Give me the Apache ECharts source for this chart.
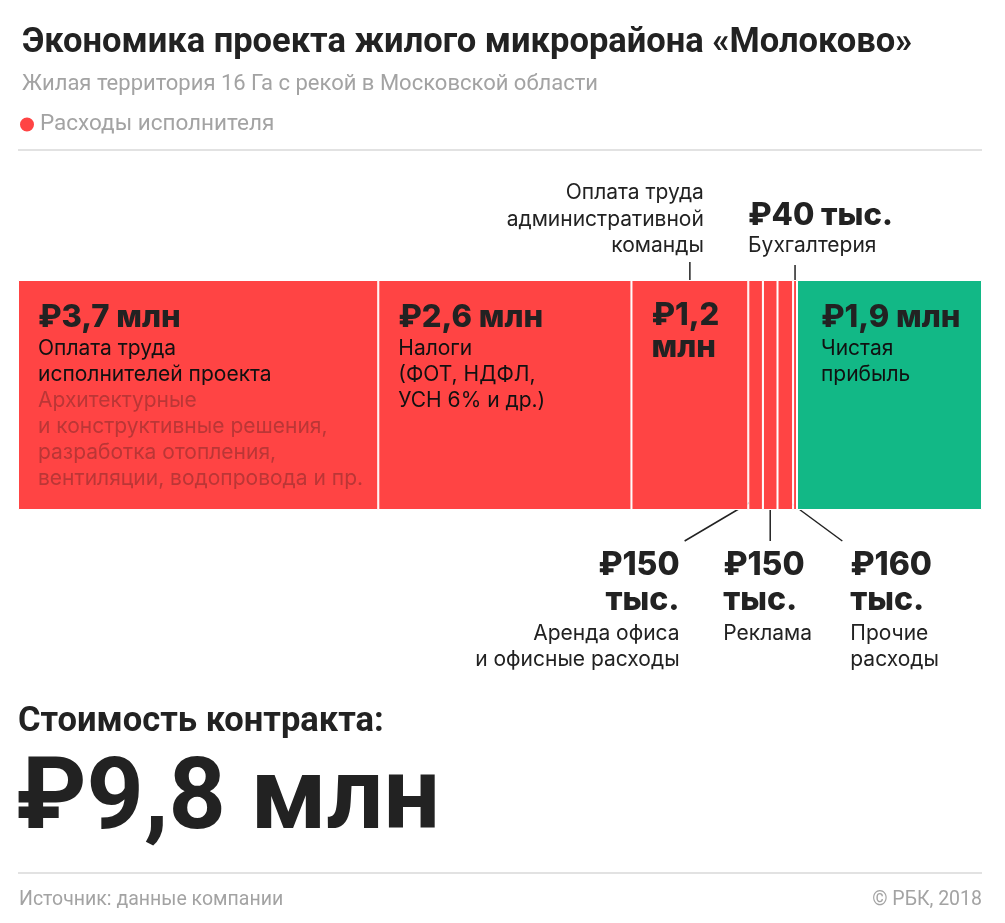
<!DOCTYPE html>
<html><head><meta charset="utf-8">
<script src="https://cdn.jsdelivr.net/npm/echarts@6/dist/echarts.min.js"></script>
<style>html,body{margin:0;background:#fff}#c{width:1005px;height:923px}</style>
</head><body><div id="c"></div>
<script>
// ---------- DATA ----------
const categories = [
  'Оплата труда исполнителей проекта', 'Налоги', 'Оплата труда административной команды',
  'Аренда офиса и офисные расходы', 'Реклама', 'Прочие расходы', 'Бухгалтерия', 'Чистая прибыль'
];
const valuesMln = [3.7, 2.6, 1.2, 0.15, 0.15, 0.16, 0.04, 1.9];
const groups = ['expense', 'expense', 'expense', 'expense', 'expense', 'expense', 'expense', 'profit'];
const valueTexts = [['₽3,7 млн'], ['₽2,6 млн'], ['₽1,2', 'млн'], ['₽150', 'тыс.'], ['₽150', 'тыс.'], ['₽160', 'тыс.'], ['₽40 тыс.'], ['₽1,9 млн']];
const descTexts = [
  ['Оплата труда', 'исполнителей проекта'],
  ['Налоги', '(ФОТ, НДФЛ,', 'УСН 6% и др.)'],
  ['Оплата труда', 'административной', 'команды'],
  ['Аренда офиса', 'и офисные расходы'],
  ['Реклама'],
  ['Прочие', 'расходы'],
  ['Бухгалтерия'],
  ['Чистая', 'прибыль']
];
const noteTexts = [['Архитектурные', 'и конструктивные решения,', 'разработка отопления,', 'вентиляции, водопровода и пр.'], [], [], [], [], [], [], []];
const groupNames = { expense: 'Расходы исполнителя', profit: 'Чистая прибыль' };
const titleText = 'Экономика проекта жилого микрорайона «Молоково»';
const subtitleText = 'Жилая территория 16 Га с рекой в Московской области';
const totalLabel = 'Стоимость контракта:';
const totalText = '₽9,8 млн';
const sourceText = 'Источник: данные компании';
const creditText = '© РБК, 2018';

// ---------- STYLE ----------
const colors = { expense: '#ff4444', profit: '#12b886' };
const BODY = 'Inter, "Noto Sans", Roboto, sans-serif';
const BOLDNUM = 'Inter, "Noto Sans", Roboto, sans-serif';
const COND = 'Roboto, "Liberation Sans Narrow", sans-serif';
const GRID = { left: 18, right: 23, top: 280, height: 230 };
const insideIdx = [0, 1, 2, 7];
const insideShowsDesc = [true, true, false, false, false, false, false, true];

const chart = echarts.init(document.getElementById('c'), null, { renderer: 'canvas' });

function insideLabel(i) {
  if (!insideIdx.includes(i)) return { show: false };
  const parts = [];
  const twoLine = valueTexts[i].length > 1;
  valueTexts[i].forEach(t => parts.push('{v|' + t + '}'));
  if (insideShowsDesc[i]) {
    descTexts[i].forEach(t => parts.push('{d|' + t + '}'));
    noteTexts[i].forEach(t => parts.push('{n|' + t + '}'));
  }
  return {
    show: true,
    position: [i === 7 ? 24 : 20, 20],
    formatter: parts.join('\n'),
    rich: {
      v: { fontFamily: BOLDNUM, fontWeight: 800, fontSize: 31, color: '#222', lineHeight: twoLine ? 32 : 36 },
      d: { fontFamily: BODY, fontSize: 21, color: '#111', lineHeight: 26 },
      n: { fontFamily: BODY, fontSize: 21, color: '#bb3636', lineHeight: 26 }
    }
  };
}

chart.setOption({
  animation: false,
  title: {
    text: titleText, subtext: subtitleText, left: 17, top: 21, itemGap: 12,
    textStyle: { fontFamily: COND, fontWeight: 'bold', fontSize: 34.5, color: '#222' },
    subtextStyle: { fontFamily: COND, fontSize: 22, color: '#a3a3a3' }
  },
  legend: {
    left: 13, top: 108, icon: 'circle', itemWidth: 16, itemHeight: 16, itemGap: 4, selectedMode: false,
    data: [groupNames.expense],
    textStyle: { fontFamily: COND, fontSize: 22.5, color: '#a3a3a3' }
  },
  grid: GRID,
  xAxis: { type: 'value', min: 0, max: valuesMln.reduce((a, b) => a + b, 0), show: false },
  yAxis: { type: 'category', data: ['Контракт'], show: false },
  series: categories.map((c, i) => ({
    type: 'bar', name: groupNames[groups[i]], stack: 'total', barWidth: '100%',
    data: [valuesMln[i]],
    itemStyle: { color: colors[groups[i]], borderColor: '#fff', borderWidth: 1 },
    label: insideLabel(i),
    silent: true
  }))
});

// annotations positioned from the axis scale
const starts = [], ends = [];
let acc = 0;
valuesMln.forEach(v => { starts.push(acc); acc += v; ends.push(acc); });
const px = v => chart.convertToPixel({ xAxisIndex: 0 }, v);
const cx = i => (px(starts[i]) + px(ends[i])) / 2;
const barTop = GRID.top, barBottom = GRID.top + GRID.height;

const g = [];
function txt(text, x, y, font, fill, align) {
  g.push({ type: 'text', silent: true, style: { text, x, y, font, fill, textAlign: align || 'left', textVerticalAlign: 'middle' } });
}
function line(x1, y1, x2, y2) {
  g.push({ type: 'line', silent: true, shape: { x1, y1, x2, y2 }, style: { stroke: '#222', lineWidth: 1.5 } });
}
const VF = '800 32px ' + BOLDNUM;
const DF = '21px ' + BODY;

// admin team (above)
{
  const x = cx(2);
  line(x, 262, x, barTop + 15);
  descTexts[2].forEach((t, k) => txt(t, x + 14, 193 + k * 26.5, DF, '#222', 'right'));
}
// accounting (above)
{
  const x = cx(6);
  line(x, 265, x, barTop + 15);
  txt(valueTexts[6][0], x - 47, 216, '800 31px ' + BOLDNUM, '#222', 'left');
  txt(descTexts[6][0], x - 47, 246, DF, '#222', 'left');
}
// below
const below = [
  { i: 3, dx: -71, tx: -76, align: 'right' },
  { i: 4, dx: 0, tx: -47, align: 'left' },
  { i: 5, dx: 57, tx: 65, align: 'left' }
];
below.forEach(b => {
  const x = cx(b.i);
  line(x, barBottom - 11, x + b.dx, 541);
  valueTexts[b.i].forEach((t, k) => txt(t, x + b.tx, 565 + k * 35, VF, '#222', b.align));
  descTexts[b.i].forEach((t, k) => txt(t, x + b.tx, 634 + k * 26, DF, '#222', b.align));
});

// rules, total, footer
g.push({ type: 'line', silent: true, shape: { x1: 18, y1: 150, x2: 982, y2: 150 }, style: { stroke: '#e2e2e2', lineWidth: 2 } });
g.push({ type: 'line', silent: true, shape: { x1: 18, y1: 873, x2: 982, y2: 873 }, style: { stroke: '#e2e2e2', lineWidth: 2 } });
txt(totalLabel, 18, 722, 'bold 34.5px ' + COND, '#222', 'left');
txt(totalText, 16, 803, 'bold 100px ' + COND, '#222', 'left');
txt(sourceText, 19, 900, '19.5px ' + COND, '#a3a3a3', 'left');
txt(creditText, 982, 900, '19.5px ' + COND, '#a3a3a3', 'right');

chart.setOption({ graphic: g });
</script>
</body></html>
